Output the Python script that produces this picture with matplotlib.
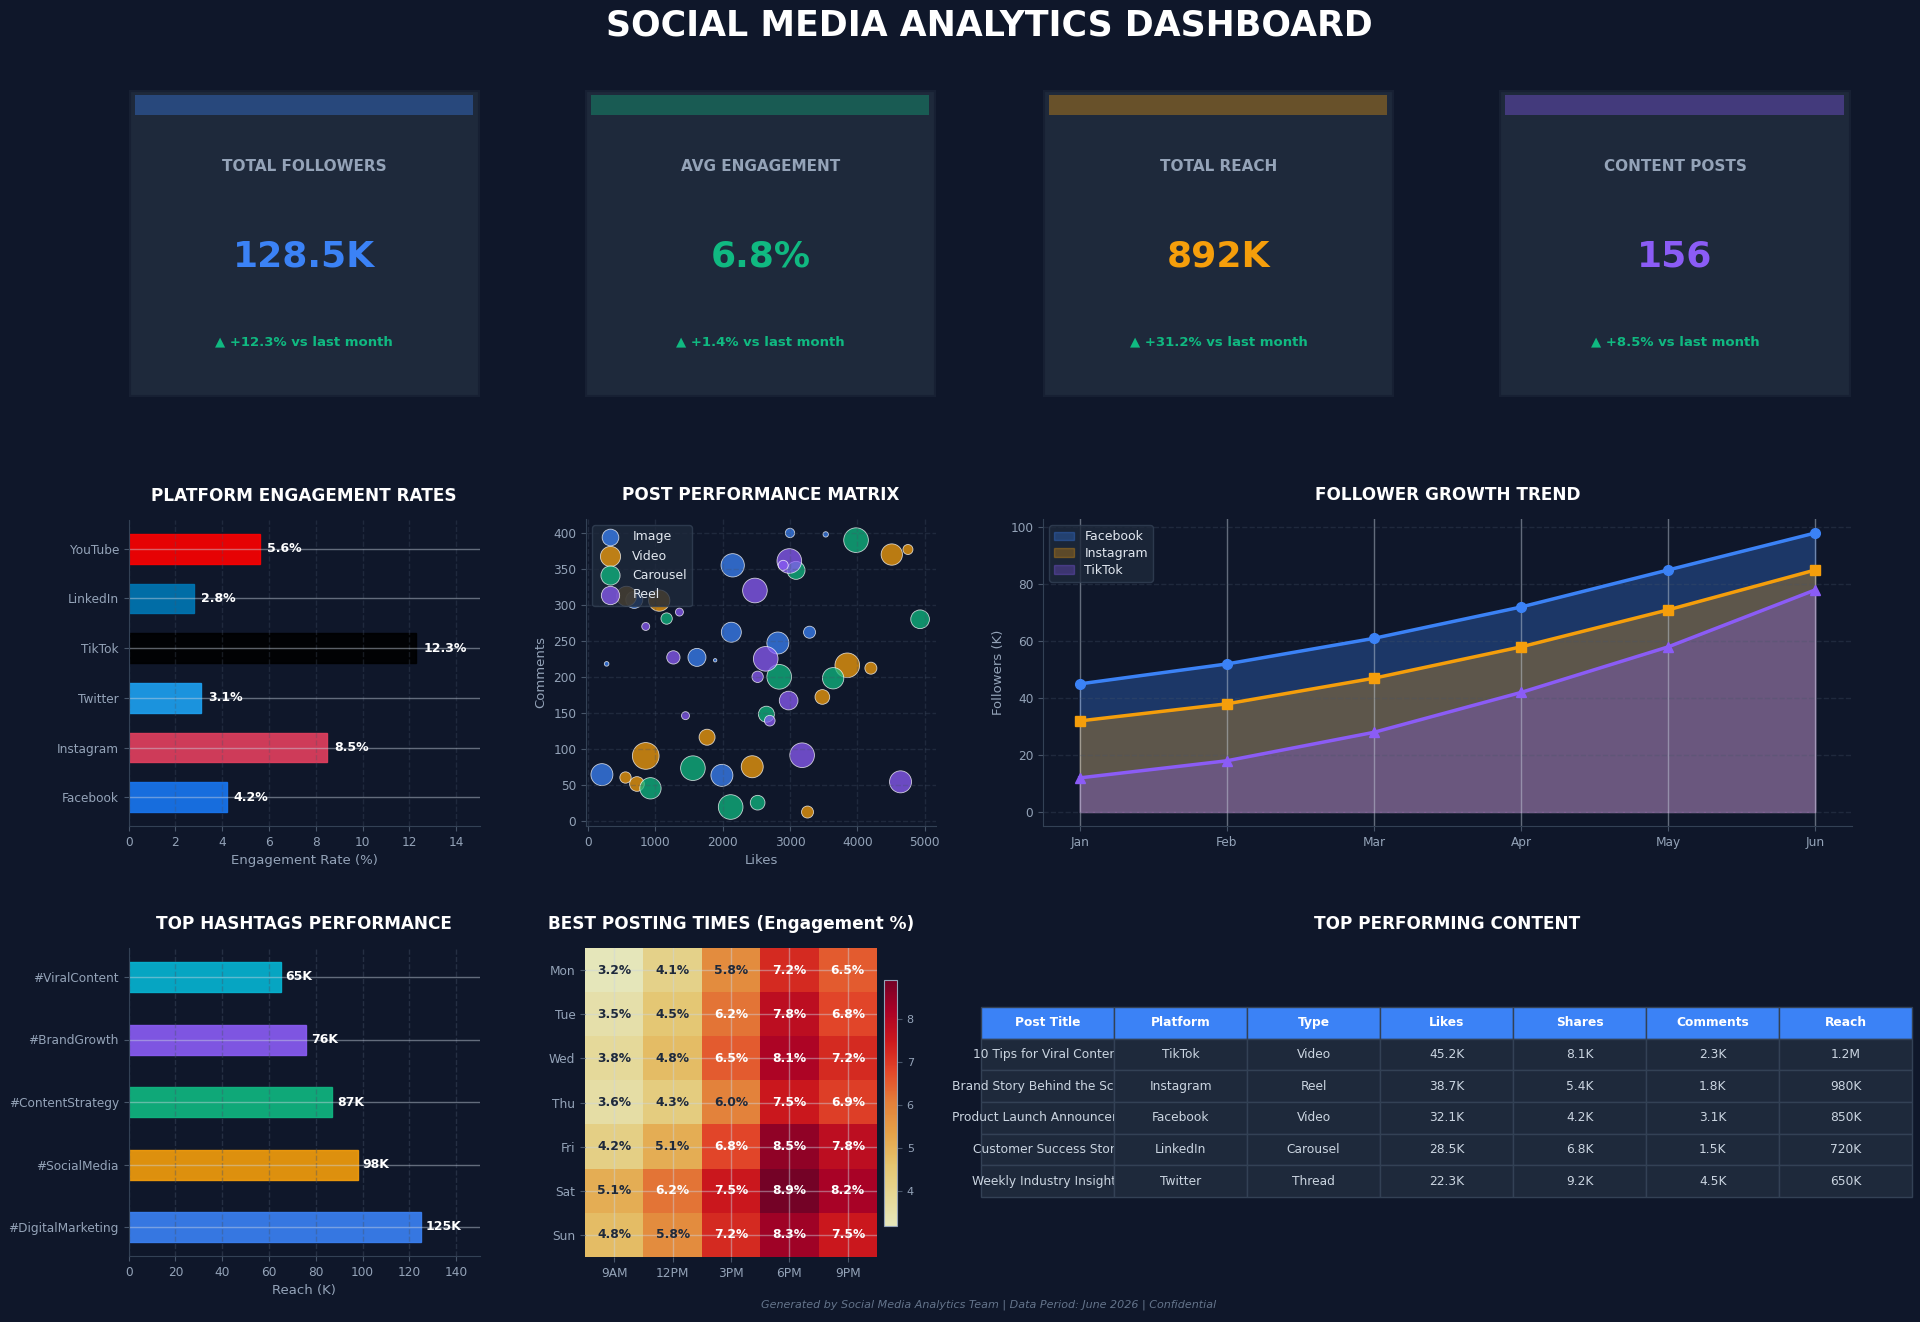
import matplotlib
matplotlib.use('Agg')
import matplotlib.pyplot as plt
from matplotlib.patches import Rectangle
import numpy as np

# ---- data ----
kpi_titles = ['TOTAL FOLLOWERS', 'AVG ENGAGEMENT', 'TOTAL REACH', 'CONTENT POSTS']
kpi_values = ['128.5K', '6.8%', '892K', '156']
kpi_changes = ['+12.3%', '+1.4%', '+31.2%', '+8.5%']
kpi_colors = ['#3b82f6', '#10b981', '#f59e0b', '#8b5cf6']

platforms = ['Facebook', 'Instagram', 'Twitter', 'TikTok', 'LinkedIn', 'YouTube']
engagement = [4.2, 8.5, 3.1, 12.3, 2.8, 5.6]
platform_colors = ['#1877F2', '#E4405F', '#1DA1F2', '#000000', '#0077B5', '#FF0000']

post_types = ['Image', 'Video', 'Carousel', 'Reel']
type_colors = ['#3b82f6', '#f59e0b', '#10b981', '#8b5cf6']
image_likes = [3000, 3530, 2150, 690, 2130, 3290, 2820, 1620, 280, 1890, 210, 1990]
image_comments = [400, 398, 355, 307, 262, 262, 247, 227, 218, 223, 64, 63]
image_sizes = [45, 15, 282, 150, 207, 75, 251, 168, 11, 6, 251, 251]
video_likes = [4510, 4750, 1060, 575, 3850, 4200, 3480, 1770, 860, 2440, 560, 730, 3260]
video_comments = [370, 377, 306, 312, 216, 212, 172, 116, 90, 75, 60, 51, 12]
video_sizes = [236, 52, 236, 207, 315, 75, 112, 133, 370, 251, 67, 112, 75]
carousel_likes = [3980, 3090, 4930, 1170, 2840, 3640, 2650, 1560, 930, 2120, 2520]
carousel_comments = [390, 348, 280, 281, 200, 198, 148, 73, 45, 19, 25]
carousel_sizes = [315, 168, 181, 67, 315, 236, 133, 315, 236, 315, 112]
reel_likes = [2990, 2900, 2480, 1360, 860, 1270, 2640, 2520, 2980, 2700, 1450, 3180, 4640]
reel_comments = [361, 355, 320, 290, 270, 227, 225, 200, 167, 139, 146, 91, 54]
reel_sizes = [315, 52, 315, 33, 33, 92, 315, 67, 181, 59, 33, 315, 251]

months = ['Jan', 'Feb', 'Mar', 'Apr', 'May', 'Jun']
facebook_followers = [45, 52, 61, 72, 85, 98]
instagram_followers = [32, 38, 47, 58, 71, 85]
tiktok_followers = [12, 18, 28, 42, 58, 78]

hashtags = ['#DigitalMarketing', '#SocialMedia', '#ContentStrategy', '#BrandGrowth', '#ViralContent']
hashtag_reach = [125, 98, 87, 76, 65]
hashtag_colors = ['#3b82f6', '#f59e0b', '#10b981', '#8b5cf6', '#06b6d4']

days = ['Mon', 'Tue', 'Wed', 'Thu', 'Fri', 'Sat', 'Sun']
hours = ['9AM', '12PM', '3PM', '6PM', '9PM']
posting_engagement = [
    [3.2, 4.1, 5.8, 7.2, 6.5],
    [3.5, 4.5, 6.2, 7.8, 6.8],
    [3.8, 4.8, 6.5, 8.1, 7.2],
    [3.6, 4.3, 6.0, 7.5, 6.9],
    [4.2, 5.1, 6.8, 8.5, 7.8],
    [5.1, 6.2, 7.5, 8.9, 8.2],
    [4.8, 5.8, 7.2, 8.3, 7.5],
]

table_columns = ['Post Title', 'Platform', 'Type', 'Likes', 'Shares', 'Comments', 'Reach']
table_rows = [
    ['10 Tips for Viral Content', 'TikTok', 'Video', '45.2K', '8.1K', '2.3K', '1.2M'],
    ['Brand Story Behind the Scenes', 'Instagram', 'Reel', '38.7K', '5.4K', '1.8K', '980K'],
    ['Product Launch Announcement', 'Facebook', 'Video', '32.1K', '4.2K', '3.1K', '850K'],
    ['Customer Success Story', 'LinkedIn', 'Carousel', '28.5K', '6.8K', '1.5K', '720K'],
    ['Weekly Industry Insights', 'Twitter', 'Thread', '22.3K', '9.2K', '4.5K', '650K'],
]

# ---- style ----
BG = '#0f172a'
CARD = '#1e293b'
MUTED = '#94a3b8'
EDGE = '#475569'

plt.rcParams.update({
    'font.family': 'DejaVu Sans',
    'axes.facecolor': BG,
    'axes.edgecolor': EDGE,
    'axes.labelcolor': MUTED,
    'axes.grid': True,
    'grid.color': '#cbd5e1',
    'grid.alpha': 0.45,
    'grid.linewidth': 1.0,
    'xtick.color': EDGE,
    'ytick.color': EDGE,
    'xtick.labelcolor': MUTED,
    'ytick.labelcolor': MUTED,
    'xtick.labelsize': 8.7,
    'ytick.labelsize': 8.7,
    'axes.labelsize': 9.5,
})

W, H = 1920, 1322
fig = plt.figure(figsize=(W / 100, H / 100), dpi=100, facecolor=BG)


def px_rect(x0, y0, x1, y1):
    return [x0 / W, 1 - y1 / H, (x1 - x0) / W, (y1 - y0) / H]


def clean(ax):
    for s in ['top', 'right']:
        ax.spines[s].set_visible(False)
    ax.spines['left'].set_color('#334155')
    ax.spines['bottom'].set_color('#334155')


def title(ax, text):
    ax.set_title(text, color='white', fontsize=12.2, fontweight='bold', pad=14)


fig.text(989 / W, 1 - 26 / H, 'SOCIAL MEDIA ANALYTICS DASHBOARD', color='white',
         fontsize=25, fontweight='bold', ha='center', va='center')

# ---- KPI cards ----
card_x = [(128.6, 479.5), (585, 936), (1043, 1394), (1499, 1851)]
for (x0, x1), t, v, ch, c in zip(card_x, kpi_titles, kpi_values, kpi_changes, kpi_colors):
    cax = fig.add_axes(px_rect(x0, 90, x1, 397))
    cax.set_axis_off()
    cax.add_patch(Rectangle((0, 0), 1, 1, transform=cax.transAxes, facecolor=CARD,
                            edgecolor='#172033', linewidth=3))
    cax.add_patch(Rectangle((0.018, 0.919), 0.963, 0.065, transform=cax.transAxes,
                            facecolor=c, alpha=0.35, edgecolor='none'))
    cax.text(0.5, 0.752, t, color=MUTED, fontsize=11, fontweight='bold',
             ha='center', va='center', transform=cax.transAxes)
    cax.text(0.5, 0.459, v, color=c, fontsize=26, fontweight='bold',
             ha='center', va='center', transform=cax.transAxes)
    cax.text(0.5, 0.179, '\u25b2 ' + ch + ' vs last month', color='#10b981', fontsize=9.5,
             fontweight='bold', ha='center', va='center', transform=cax.transAxes)

# ---- platform engagement ----
ax1 = fig.add_axes(px_rect(128.6, 520, 479.5, 826))
ax1.barh(platforms, engagement, color=platform_colors, height=0.6, alpha=0.9,
         edgecolor=platform_colors, linewidth=1)
ax1.grid(axis='x', color=EDGE, alpha=0.3, linestyle='--')
for i, val in enumerate(engagement):
    ax1.text(val + 0.3, i, f'{val}%', color='white', fontsize=9, fontweight='bold', va='center')
ax1.set_xlim(0, 15)
ax1.set_xlabel('Engagement Rate (%)')
clean(ax1)
title(ax1, 'PLATFORM ENGAGEMENT RATES')

# ---- post performance ----
ax2 = fig.add_axes(px_rect(586, 519, 936, 826))
scatter_sets = [(image_likes, image_comments, image_sizes),
                (video_likes, video_comments, video_sizes),
                (carousel_likes, carousel_comments, carousel_sizes),
                (reel_likes, reel_comments, reel_sizes)]
for (lk, cm, sz), name, col in zip(scatter_sets, post_types, type_colors):
    ax2.scatter(lk, cm, s=sz, c=col, alpha=0.75, edgecolors='white', linewidths=0.6, label=name)
ax2.grid(True, color=EDGE, alpha=0.3, linestyle='--')
ax2.set_xlabel('Likes')
ax2.set_ylabel('Comments')
ax2.legend(loc='upper left', fontsize=9, facecolor=CARD, edgecolor='#334155',
           framealpha=0.8, labelcolor='#e2e8f0')
clean(ax2)
title(ax2, 'POST PERFORMANCE MATRIX')

# ---- follower growth ----
ax3 = fig.add_axes(px_rect(1043, 519, 1852, 826))
x = np.arange(len(months))
for vals, name, col, mk in [(facebook_followers, 'Facebook', '#3b82f6', 'o'),
                            (instagram_followers, 'Instagram', '#f59e0b', 's'),
                            (tiktok_followers, 'TikTok', '#8b5cf6', '^')]:
    ax3.fill_between(x, vals, alpha=0.3, color=col, label=name)
    ax3.plot(x, vals, color=col, linewidth=2.5, marker=mk, markersize=7)
ax3.set_xticks(x)
ax3.set_xticklabels(months)
ax3.grid(axis='y', color=EDGE, alpha=0.3, linestyle='--')
ax3.set_ylabel('Followers (K)')
ax3.legend(loc='upper left', fontsize=9, facecolor=CARD, edgecolor='#334155',
           framealpha=0.8, labelcolor='#e2e8f0', handlelength=1.6, labelspacing=0.3)
clean(ax3)
title(ax3, 'FOLLOWER GROWTH TREND')

# ---- hashtags ----
ax4 = fig.add_axes(px_rect(128.6, 948, 479.5, 1256))
ax4.barh(hashtags, hashtag_reach, color=hashtag_colors, height=0.48, alpha=0.9,
         edgecolor=hashtag_colors, linewidth=1)
ax4.grid(axis='x', color=EDGE, alpha=0.4, linestyle='--')
for i, val in enumerate(hashtag_reach):
    ax4.text(val + 2, i, f'{val}K', color='white', fontsize=9, fontweight='bold', va='center')
ax4.set_xlim(0, 150)
ax4.set_xlabel('Reach (K)')
clean(ax4)
title(ax4, 'TOP HASHTAGS PERFORMANCE')

# ---- heatmap ----
ax5 = fig.add_axes(px_rect(585, 948, 877, 1257))
data = np.array(posting_engagement)
im = ax5.imshow(data, cmap='YlOrRd', aspect='auto', alpha=0.9)
ax5.set_xticks(range(len(hours)))
ax5.set_xticklabels(hours)
ax5.set_yticks(range(len(days)))
ax5.set_yticklabels(days)
for s in ax5.spines.values():
    s.set_visible(False)
for r in range(data.shape[0]):
    for c in range(data.shape[1]):
        v = data[r, c]
        ax5.text(c, r, f'{v}%', ha='center', va='center', fontsize=8.8, fontweight='bold',
                 color='white' if v > 6.0 else '#1e293b')
title(ax5, 'BEST POSTING TIMES (Engagement %)')
cbar_ax = fig.add_axes(px_rect(884, 980, 897, 1226))
cb = fig.colorbar(im, cax=cbar_ax)
cb.ax.tick_params(labelsize=8, colors=EDGE, labelcolor=MUTED)
cb.outline.set_edgecolor(MUTED)
cb.outline.set_linewidth(0.8)
cb.ax.grid(False)

# ---- table ----
ax6 = fig.add_axes(px_rect(1043, 948, 1852, 1257))
ax6.set_axis_off()
tbl = ax6.table(cellText=table_rows, colLabels=table_columns, cellLoc='center',
                bbox=[-0.0766, 0.194, 1.151, 0.615])
tbl.auto_set_font_size(False)
tbl.set_fontsize(8.8)
for (r, c), cell in tbl.get_celld().items():
    cell.set_edgecolor('#334155')
    if r == 0:
        cell.set_facecolor('#3b82f6')
        cell.get_text().set_color('white')
        cell.get_text().set_fontweight('bold')
    else:
        cell.set_facecolor(CARD)
        cell.get_text().set_color('#cbd5e1')
title(ax6, 'TOP PERFORMING CONTENT')

fig.text(989 / W, 1 - 1305 / H,
         'Generated by Social Media Analytics Team | Data Period: June 2026 | Confidential',
         color='#64748b', fontsize=8, style='italic', ha='center', va='center')

fig.savefig('out.png', dpi=100, facecolor=BG)
